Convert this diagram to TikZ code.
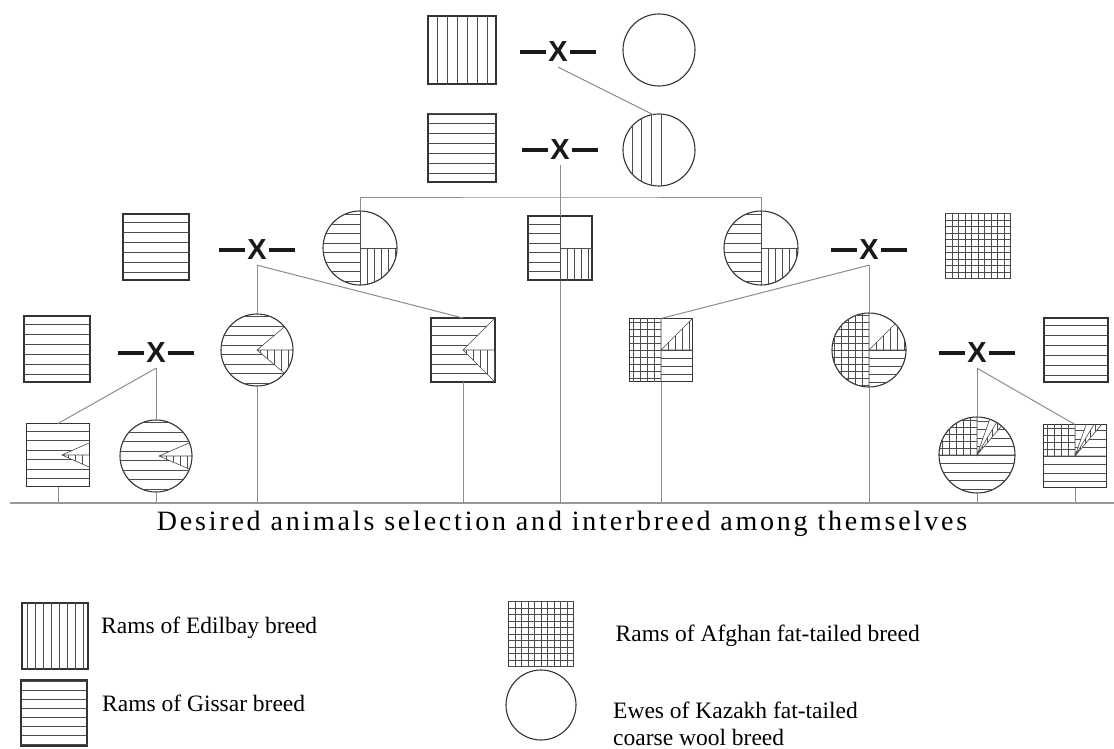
\documentclass[tikz,border=0pt]{standalone}
\usepackage{fontspec}
\setmainfont{Liberation Serif}
\newfontfamily\crossfont{Liberation Sans}
\usetikzlibrary{calc,positioning}

\newcommand{\crossbar}{\rule[8.4pt]{26pt}{3.4pt}}
\newcommand{\hlines}[3]{\foreach \k in {-6,...,6} \draw[hatch] ($(#1)+(-50,\k*#2+#3)$) -- ++(100,0);}
\newcommand{\vlines}[3]{\foreach \k in {-6,...,6} \draw[hatch] ($(#1)+(\k*#2+#3,-50)$) -- ++(0,100);}
\newcommand{\zone}[5]{\clip ($(#1)+(#2,#3)$) rectangle ($(#1)+(#4,#5)$);}

% half Gissar, quarter Edilbay, quarter Kazakh
\newcommand{\quarterfill}[2]{%
  \begin{scope}
    #2
    \begin{scope}\zone{#1}{-45}{-45}{0}{45}\hlines{#1}{9.5}{4.75}\end{scope}
    \begin{scope}\zone{#1}{0}{0}{45}{45}\vlines{#1}{7}{0}\end{scope}
    \draw[hatch] ($(#1)+(0,-45)$) -- ++(0,90) (#1.center) -- ++(45,0);
  \end{scope}}

% Gissar with a wedge: node, clip, apex dx, end dx, end dy
\newcommand{\wedgefill}[5]{%
  \begin{scope}
    #2
    \coordinate (ap) at ($(#1)+(#3,0)$);
    \begin{scope}
      \clip ($(#1)+(-45,-45)$) -- ($(#1)+(45,-45)$) -- ($(#1)+(#4,-#5)$) -- (ap)
        -- ($(#1)+(#4,#5)$) -- ($(#1)+(45,45)$) -- ($(#1)+(-45,45)$) -- cycle;
      \hlines{#1}{9.5}{4.75}
    \end{scope}
    \begin{scope}
      \clip (ap) -- ($(#1)+(#4,#5)$) -- ($(#1)+(45,#5)$) -- ($(#1)+(45,0)$) -- cycle;
      \vlines{#1}{7}{3}
    \end{scope}
    \draw[hatch] ($(#1)+(#4,-#5)$) -- (ap) -- ($(#1)+(#4,#5)$) (ap) -- ++(45,0);
  \end{scope}}

% half Afghan
\newcommand{\halfgrid}[2]{%
  \begin{scope}
    #2
    \begin{scope}\zone{#1}{-45}{-45}{0}{45}\hlines{#1}{7}{0}\vlines{#1}{7}{0}\end{scope}
    \begin{scope}\zone{#1}{0}{0}{45}{45}\hlines{#1}{8}{0}\end{scope}
    \begin{scope}\clip (#1.center) -- ($(#1)+(45,-45)$) -- ($(#1)+(45,0)$) -- cycle; \vlines{#1}{7}{0}\end{scope}
    \draw[hatch] ($(#1)+(0,-45)$) -- ++(0,90) (#1.center) -- ++(45,0) (#1.center) -- ++(45,-45);
  \end{scope}}

% quarter Afghan
\newcommand{\quartergrid}[2]{%
  \begin{scope}
    #2
    \begin{scope}\zone{#1}{-45}{-45}{0}{0}\hlines{#1}{7}{0}\vlines{#1}{7}{0}\end{scope}
    \begin{scope}
      \clip ($(#1)+(-45,45)$) -- ($(#1)+(-45,0)$) -- (#1.center) -- ($(#1)+(0,-45)$) -- ($(#1)+(16,-45)$)
        -- (#1.center) -- ($(#1)+(38,-45)$) -- ($(#1)+(45,-45)$) -- ($(#1)+(45,45)$) -- cycle;
      \hlines{#1}{8.5}{0}
    \end{scope}
    \begin{scope}
      \clip (#1.center) -- ($(#1)+(27,-45)$) -- ($(#1)+(38,-45)$) -- cycle;
      \vlines{#1}{5}{0}
    \end{scope}
    \draw[hatch] ($(#1)+(-45,0)$) -- ++(90,0) ($(#1)+(0,-45)$) -- (#1.center)
      ($(#1)+(16,-45)$) -- (#1.center) -- ($(#1)+(38,-45)$) (#1.center) -- ($(#1)+(27,-45)$);
  \end{scope}}

\tikzset{
  ram/.style={rectangle, draw=black!80, line width=1.1pt, fill=white, minimum size=66pt, inner sep=0pt, outer sep=0pt},
  ewe/.style={circle, draw=black!80, line width=1.1pt, fill=white, minimum size=72pt, inner sep=0pt, outer sep=0pt},
  cross/.style={font=\crossfont\bfseries\fontsize{29}{29}\selectfont, text=black!90, inner xsep=0pt, inner ysep=5pt},
  link/.style={draw=black!45, line width=1pt},
  ground/.style={draw=black!40, line width=2.2pt},
  hatch/.style={draw=black!70, line width=0.6pt},
  note/.style={font=\fontsize{23.5}{27}\selectfont, inner sep=0pt, align=left},
}

\begin{document}
\begin{tikzpicture}[x=1pt, y=-1pt]
  \useasboundingbox (0,0) rectangle (1114,749);

  % parents and crosses
  \node[ram, minimum size=68pt] (e1) at (462,50) {};
  \node[ewe] (k0) at (659,50) {};
  \node[cross] (x1) at (558,52) {\crossbar\kern2pt X\kern2pt\crossbar};
  \node[ram, minimum size=68pt] (g1) at (462,148) {};
  \node[ewe] (c2) at (659,150) {};
  \node[cross] (x2) at (560,150) {\crossbar\kern2pt X\kern2pt\crossbar};

  \node[ram] (g2) at (156,247) {};
  \node[cross] (x3) at (257,250) {\crossbar\kern2pt X\kern2pt\crossbar};
  \node[ewe, minimum size=74pt] (c3a) at (360,248) {};
  \node[ram, minimum size=64pt] (m3) at (560,248) {};
  \node[ewe, minimum size=74pt] (c3b) at (761,248) {};
  \node[cross] (x4) at (869,250) {\crossbar\kern2pt X\kern2pt\crossbar};
  \node[ram, minimum size=65pt] (a1) at (978,246) {};

  \node[ram] (g3) at (57,349) {};
  \node[cross] (x5) at (156,353) {\crossbar\kern2pt X\kern2pt\crossbar};
  \node[ewe] (c4a) at (257,350) {};
  \node[ram, minimum size=64pt] (s4b) at (463,350) {};
  \node[ram, minimum size=63pt] (s4c) at (661,350) {};
  \node[ewe, minimum size=74pt] (c4d) at (869,350) {};
  \node[cross] (x6) at (977,353) {\crossbar\kern2pt X\kern2pt\crossbar};
  \node[ram, minimum size=64pt] (g4) at (1076,350) {};

  \node[ram, minimum size=63pt] (s5a) at (58,455) {};
  \node[ewe] (c5b) at (156,456) {};
  \node[ewe, minimum size=76pt] (c5c) at (977,455) {};
  \node[ram, minimum size=63pt] (s5d) at (1075,456) {};

  \coordinate (bar) at (560,197);
  \coordinate (base) at (10,503);

  % connectors
  \draw[link] (x1.south) -- (c2.100);
  \draw[link] (x2.south) -- (x2.south |- base);
  \draw[link] (c3a.north) |- (bar) -| (c3b.north);
  \draw[link] (x3.south) -- (c4a.north);
  \draw[link] (x3.south) -- (s4b.north);
  \draw[link] (x4.south) -- (c4d.north);
  \draw[link] (x4.south) -- (s4c.north);
  \draw[link] (x5.south) -- (s5a.north);
  \draw[link] (x5.south) -- (c5b.north);
  \draw[link] (x6.south) -- (c5c.north);
  \draw[link] (x6.south) -- (s5d.north);
  \foreach \n in {s5a,c5b,c4a,s4b,s4c,c4d,c5c,s5d}
    \draw[link] (\n.south) -- (\n.south |- base);
  \draw[ground] (base) -- ++(1104,0);

  % breed fills
  \begin{scope}\clip (e1.north west) rectangle (e1.south east); \vlines{e1}{10}{5}\end{scope}
  \foreach \n in {g1,g2,g3,g4}
    {\begin{scope}\clip (\n.north west) rectangle (\n.south east); \hlines{\n}{10}{5}\end{scope}}
  \begin{scope}\clip (a1.north west) rectangle (a1.south east); \hlines{a1}{6.5}{0}\vlines{a1}{6.5}{0}\end{scope}
  \begin{scope}
    \clip (c2) circle (36pt);
    \foreach \dx in {-27,-18,-8,2} \draw[hatch] ($(c2)+(\dx,-40)$) -- ++(0,80);
  \end{scope}

  \quarterfill{c3a}{\clip (c3a) circle (37pt);}
  \quarterfill{c3b}{\clip (c3b) circle (37pt);}
  \quarterfill{m3}{\clip (m3.north west) rectangle (m3.south east);}

  \wedgefill{c4a}{\clip (c4a) circle (36pt);}{0}{45}{38}
  \wedgefill{s4b}{\clip (s4b.north west) rectangle (s4b.south east);}{0}{45}{45}
  \wedgefill{s5a}{\clip (s5a.north west) rectangle (s5a.south east);}{4}{40}{16}
  \wedgefill{c5b}{\clip (c5b) circle (36pt);}{3}{40}{16}

  \halfgrid{s4c}{\clip (s4c.north west) rectangle (s4c.south east);}
  \halfgrid{c4d}{\clip (c4d) circle (37pt);}

  \quartergrid{c5c}{\clip (c5c) circle (38pt);}
  \quartergrid{s5d}{\clip (s5d.north west) rectangle (s5d.south east);}

  \node[font=\fontsize{28}{30}\selectfont\addfontfeature{LetterSpace=10}, inner sep=0pt] (goal) at (562,524)
    {Desired animals selection and interbreed among themselves};

  % legend
  \node[ram] (le) at (55,636) {};
  \node[ram] (lg) at (54,713) {};
  \node[ram, minimum size=65pt] (la) at (541,634) {};
  \node[ewe, minimum size=70pt] (lk) at (541,705) {};
  \begin{scope}\clip (le.north west) rectangle (le.south east); \vlines{le}{8}{4}\end{scope}
  \begin{scope}\clip (lg.north west) rectangle (lg.south east); \hlines{lg}{9}{4.5}\end{scope}
  \begin{scope}\clip (la.north west) rectangle (la.south east); \hlines{la}{6.5}{0}\vlines{la}{6.5}{0}\end{scope}

  \node[note, right=13pt of le, yshift=8pt] (te) {Rams of Edilbay breed};
  \node[note, right=15pt of lg, yshift=10pt] (tg) {Rams of Gissar breed};
  \node[note, right=42pt of la, yshift=-2pt] (ta) {Rams of Afghan fat-tailed breed};
  \node[note, right=37pt of lk, yshift=-19pt] (tk) {Ewes of Kazakh fat-tailed\\coarse wool breed};
\end{tikzpicture}
\end{document}
